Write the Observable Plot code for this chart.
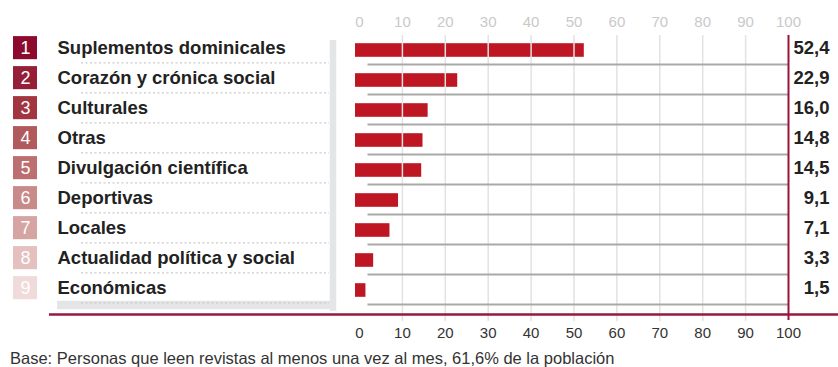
<!DOCTYPE html>
<html>
<head>
<meta charset="utf-8">
<script src="https://cdn.jsdelivr.net/npm/d3@7"></script>
<script src="https://cdn.jsdelivr.net/npm/@observablehq/plot@0.6"></script>
<style>
  html, body { margin: 0; padding: 0; background: #fff; }
  figure { margin: 0; }
  figcaption {
    font-family: "Liberation Sans", Arial, sans-serif;
    font-size: 16.5px; line-height: 20px; color: #333;
    padding-left: 10px; margin-top: 2px;
  }
</style>
</head>
<body>
<div id="chart"></div>
<script>
// ---- data ----
const ranks = [1, 2, 3, 4, 5, 6, 7, 8, 9];
const categories = [
  "Suplementos dominicales",
  "Corazón y crónica social",
  "Culturales",
  "Otras",
  "Divulgación científica",
  "Deportivas",
  "Locales",
  "Actualidad política y social",
  "Económicas"
];
const values = [52.4, 22.9, 16.0, 14.8, 14.5, 9.1, 7.1, 3.3, 1.5];
const xTicks = [0, 10, 20, 30, 40, 50, 60, 70, 80, 90, 100];
const captionText = "Base: Personas que leen revistas al menos una vez al mes, 61,6% de la población";

const rows = categories.map((c, i) => ({rank: ranks[i], category: c, value: values[i]}));
const fmt = v => v.toFixed(1).replace(".", ",");

// ---- layout ----
const W = 838, H = 346;
const X0 = 359, X100 = 788;            // pixel positions of 0 and 100
const px = p => (p - X0) * 100 / (X100 - X0); // pixel -> x-scale value (for left panel decorations)
const mTop = 33.5, step = 30.4;
const mBottom = H - (mTop + step * categories.length);
const last = categories[categories.length - 1];
const font = "'Liberation Sans', Arial, Helvetica, sans-serif";

const chart = Plot.plot({
  width: W,
  height: H,
  marginLeft: X0,
  marginRight: W - X100,
  marginTop: mTop,
  marginBottom: mBottom,
  style: {fontFamily: font, background: "#fff", overflow: "visible"},
  x: {domain: [0, 100], axis: null},
  y: {domain: categories, padding: 0, axis: null},
  color: {
    type: "ordinal",
    domain: ranks,
    range: ["#8c0a2d", "#961f38", "#a2353f", "#b05a5e", "#bb6f71", "#c98a8a", "#d6a5a3", "#e4c0bf", "#f0dbda"]
  },
  caption: captionText,
  marks: [
    // gray "shadow" of the label panel
    Plot.ruleX([px(332.5)], {stroke: "#e4e5e7", strokeWidth: 6.5, insetTop: 6.5, insetBottom: -3.6}),
    Plot.ruleY([last], {x1: px(57), x2: px(336), dy: 14.6, stroke: "#e4e5e7", strokeWidth: 8.5}),
    // dotted separators in the label panel
    Plot.ruleY(categories, {x1: px(81), x2: px(329), dy: 12.3, stroke: "#cacaca", strokeWidth: 1.3, strokeDasharray: "2,2.5"}),
    // rank boxes
    Plot.barX(rows, {x1: px(13), x2: px(37), y: "category", fill: "rank", insetTop: 1.1, insetBottom: 5.8}),
    Plot.text(rows, {x: px(25), y: "category", text: d => String(d.rank), fill: "#fff", fontSize: 18, dy: -2.4}),
    // category labels
    Plot.text(rows, {x: px(57), y: "category", text: "category", textAnchor: "start", fontSize: 18.5, fontWeight: "bold", fill: "#222", dy: -2.3}),
    // bars
    Plot.barX(rows, {x: "value", y: "category", fill: "#be1622", insetTop: 8.2, insetBottom: 8.2, insetLeft: -4}),
    // vertical gridlines
    Plot.ruleX(xTicks.filter(t => t > 0 && t < 100), {stroke: "#e2e2e2", strokeWidth: 1.5, insetTop: 1.5, insetBottom: -14}),
    // gray row separators
    Plot.ruleY(categories, {x1: px(367.5), x2: 100, dy: 14, stroke: "#a9a9a9", strokeWidth: 2}),
    // red baseline and right border
    Plot.ruleY([last], {x1: px(49), x2: px(838), dy: 24.1, stroke: "#951a3e", strokeWidth: 2.5}),
    Plot.ruleX([100], {stroke: "#9c1339", strokeWidth: 2, insetTop: 1.5, insetBottom: -13}),
    // value labels
    Plot.text(rows, {x: 100, y: "category", text: d => fmt(d.value), textAnchor: "end", dx: 41, dy: -2.3, fontSize: 18.5, fontWeight: "bold", fill: "#222"}),
    // axes
    Plot.axisX(xTicks, {anchor: "top", label: null, tickSize: 0, tickPadding: 7, fontSize: 15, color: "#c9c9c9"}),
    Plot.axisX(xTicks, {anchor: "bottom", label: null, tickSize: 0, tickPadding: 20, fontSize: 15, color: "#333"})
  ]
});
document.getElementById("chart").appendChild(chart);
</script>
</body>
</html>
